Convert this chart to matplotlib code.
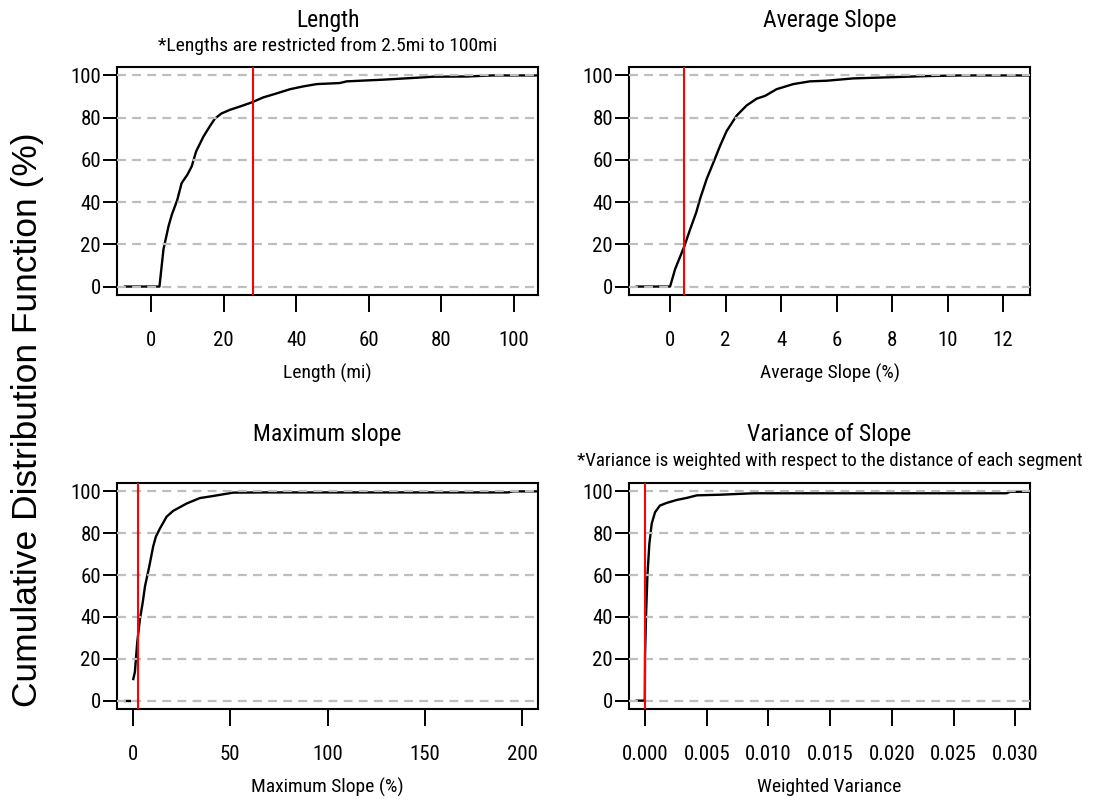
import numpy as np
import matplotlib
matplotlib.use("Agg")
import matplotlib.pyplot as plt
from matplotlib import font_manager

# ECDF values (x value, cumulative %)
length_x = [-7.2, 2.3, 3.4, 4.8, 5.7, 7.2, 8.4, 10.0, 11.2, 12.4, 14.4, 16.2, 17.6, 19.4,
            21.7, 24.5, 27.7, 30.9, 34.6, 38.3, 41.9, 45.6, 52.0, 53.9, 64.0, 73.0, 77.7,
            87.0, 94.0, 106.6]
length_y = [0, 0, 17.6, 28.6, 34, 41, 49, 53, 57, 64, 71, 76, 79.6, 82,
            83.7, 85.3, 87.2, 89.6, 91.5, 93.5, 94.8, 95.9, 96.4, 97.2, 98, 98.9, 99.4,
            99.5, 100, 100]
length_mark = 28

avg_x = [-1.2, 0.0, 0.18, 0.52, 0.72, 0.94, 1.08, 1.32, 1.56, 1.8, 2.04, 2.4, 2.76, 3.12,
         3.42, 3.84, 4.44, 5.04, 5.65, 6.6, 8.05, 9.25, 10.45, 12.97]
avg_y = [0, 0, 8.2, 19.3, 27, 35, 41.5, 51, 58.7, 66.6, 73.7, 81, 85.8, 89,
         90.3, 93.5, 95.9, 97.2, 97.5, 98.6, 99.2, 99.7, 100, 100]
avg_mark = 0.5

maxs_zero_x = [-4.1, -1.5]
maxs_zero_y = [0, 0]
maxs_x = [0.17, 1.0, 2.2, 3.6, 5.0, 6.2, 8.4, 10.4, 11.8, 13.9, 17.3, 20.7, 27.6, 34.4,
          41.3, 51.5, 68.7, 111.5, 192.8, 195.4, 208.2]
maxs_y = [10.3, 13.7, 27.9, 39, 46.8, 54.7, 64.2, 73.7, 78.4, 82.3, 87.9, 90.7, 94.2, 96.8,
          97.8, 99.4, 99.5, 99.5, 99.5, 100, 100]
maxs_mark = 2.4

var_x = [-0.00068, -0.00019, -0.00002, 0.0, 0.00008, 0.00019, 0.00035, 0.00054, 0.00081,
         0.0012, 0.00176, 0.00257, 0.0034, 0.0042, 0.0061, 0.0088, 0.0293, 0.0296, 0.0312]
var_y = [0, 0, 0, 21.6, 40.5, 59.4, 75, 84.6, 90,
         93.2, 94.5, 95.9, 96.9, 98.1, 98.4, 99.1, 99.1, 99.8, 99.8]
var_mark = 0.0

yticks = [0, 20, 40, 60, 80, 100]
length_ticks = [0, 20, 40, 60, 80, 100]
avg_ticks = [0, 2, 4, 6, 8, 10, 12]
maxs_ticks = [0, 50, 100, 150, 200]
var_ticks = [0.000, 0.005, 0.010, 0.015, 0.020, 0.025, 0.030]


def pick_narrow_font():
    # the reference uses a narrow Arial-like face; use one if installed
    prefs = ["Liberation Sans Narrow", "Arial Narrow", "Roboto Condensed", "Open Sans Condensed",
             "Noto Sans", "Open Sans", "Roboto", "Arimo", "PT Sans", "Fira Sans"]
    found = []
    for f in font_manager.fontManager.ttflist:
        if f.style != "normal" or f.weight not in (400, "normal", "regular", "book"):
            continue
        low = f.name.lower()
        narrow = "narrow" in low or ("condensed" in low and "extra" not in low and "ultra" not in low) \
            or f.stretch in ("condensed", "semi-condensed")
        if narrow:
            found.append(f)
    for p in prefs:
        for f in found:
            if f.name.startswith(p):
                return f
    return None


entry = pick_narrow_font()
if entry is not None:
    plt.rcParams["font.family"] = [entry.name, "Liberation Sans", "DejaVu Sans"]
    plt.rcParams["font.stretch"] = entry.stretch
    k = 1.0
else:
    plt.rcParams["font.family"] = ["Liberation Sans", "DejaVu Sans"]
    k = 0.85

W, H = 1111, 800
fig = plt.figure(figsize=(W / 100, H / 100), dpi=100)


def px_axes(left, top, right, bottom):
    return fig.add_axes([left / W, 1 - bottom / H, (right - left) / W, (bottom - top) / H])


def style_panel(ax, xlim, xticks, xfmt, xlabel, mark):
    ax.set_xlim(*xlim)
    ax.set_ylim(-4, 104)
    for y in yticks:
        ax.axhline(y, color="#bebebe", lw=1.6, dashes=(4, 2.8), zorder=3)
    ax.axvline(mark, color="red", lw=1.5, zorder=4)
    ax.set_yticks(yticks)
    ax.set_xticks(xticks)
    ax.set_xticklabels([xfmt.format(t) for t in xticks])
    ax.tick_params(axis="x", direction="out", length=12, width=1.4, pad=14, labelsize=15 * k)
    ax.tick_params(axis="y", direction="out", length=10, width=1.4, pad=1.5, labelsize=15 * k)
    for s in ax.spines.values():
        s.set_linewidth(1.5)
    ax.set_xlabel(xlabel, fontsize=14 * k, labelpad=10)


def title_at(ax_left, ax_right, ypix, text, size):
    fig.text((ax_left + ax_right) / 2 / W, 1 - ypix / H, text, ha="center", va="center",
             fontsize=size * k)


# Length
ax1 = px_axes(117, 67, 538, 295)
ax1.plot(length_x, length_y, color="black", lw=1.7, zorder=2)
style_panel(ax1, (-9.4, 106.6), length_ticks, "{:g}", "Length (mi)", length_mark)
title_at(117, 538, 20, "Length", 17)
title_at(117, 538, 46, "*Lengths are restricted from 2.5mi to 100mi", 14)

# Average slope
ax2 = px_axes(629, 67, 1030, 295)
ax2.plot(avg_x, avg_y, color="black", lw=1.7, zorder=2)
style_panel(ax2, (-1.48, 12.97), avg_ticks, "{:g}", "Average Slope (%)", avg_mark)
title_at(629, 1030, 20, "Average Slope", 17)

# Maximum slope
ax3 = px_axes(117, 483, 538, 709)
ax3.plot(maxs_zero_x, maxs_zero_y, color="black", lw=1.7, zorder=2)
ax3.plot(maxs_x, maxs_y, color="black", lw=1.7, zorder=2)
style_panel(ax3, (-8.2, 208.2), maxs_ticks, "{:g}", "Maximum Slope (%)", maxs_mark)
title_at(117, 538, 434, "Maximum slope", 17)

# Variance of slope
ax4 = px_axes(629, 483, 1030, 709)
ax4.plot(var_x, var_y, color="black", lw=1.7, zorder=2)
style_panel(ax4, (-0.0013, 0.0312), var_ticks, "{:.3f}", "Weighted Variance", var_mark)
title_at(629, 1030, 434, "Variance of Slope", 17)
title_at(629, 1030, 461, "*Variance is weighted with respect to the distance of each segment", 13.7)

fig.text(28 / W, 1 - 420 / H, "Cumulative Distribution Function (%)", rotation=90, ha="center",
         va="center", fontsize=25.5, family=["Liberation Sans", "DejaVu Sans"], stretch="normal")

fig.savefig("out.png", dpi=100, facecolor="white")
